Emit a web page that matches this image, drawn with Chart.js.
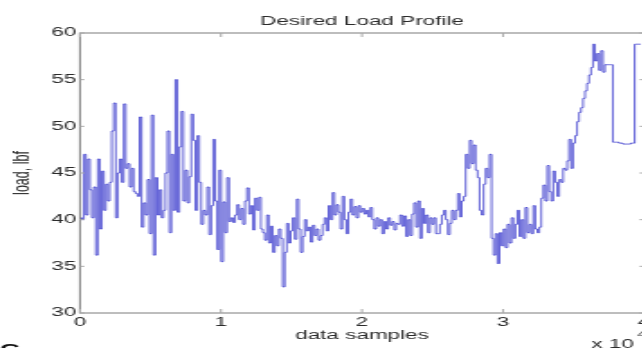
<!DOCTYPE html>
<html>
<head>
<meta charset="utf-8">
<title>Desired Load Profile</title>
<script src="https://cdn.jsdelivr.net/npm/chart.js@4.4.0/dist/chart.umd.min.js"></script>
<style>
  html, body { margin: 0; padding: 0; background: #fff; overflow: hidden; width: 642px; height: 348px; }
  /* la figure d'origine est etiree en largeur, on fait pareil */
  #wrap { width: 370px; height: 348px; transform: scaleX(1.8); transform-origin: 0 0; }
</style>
</head>
<body>
<div id="wrap"><canvas id="myChart" width="370" height="348"></canvas></div>
<script>
// Charge, un point tous les sampleStep echantillons
const sampleStep = 141;
const loadValues = [
  40.2, 40.0, 47.0, 40.5, 46.5, 43.2, 40.2, 43.5, 36.2, 46.5,
  39.0, 45.2, 41.0, 43.8, 42.0, 44.0, 49.5, 52.5, 40.2, 45.0,
  46.5, 44.0, 52.4, 45.5, 46.0, 43.5, 45.5, 43.0, 42.8, 42.5,
  51.0, 39.2, 41.8, 40.5, 44.3, 38.5, 51.2, 36.2, 44.5, 40.5,
  43.2, 40.2, 41.0, 45.0, 49.5, 38.6, 47.0, 41.0, 55.0, 40.8,
  47.8, 51.6, 42.0, 45.3, 41.8, 44.6, 51.3, 48.5, 41.0, 49.0,
  44.0, 39.5, 41.0, 40.5, 43.5, 38.4, 41.5, 48.6, 42.0, 36.8,
  45.3, 35.5, 41.9, 38.6, 44.5, 39.8, 40.2, 39.7, 40.5, 41.6,
  40.0, 41.2, 39.5, 42.0, 43.4, 40.6, 41.5, 38.9, 42.3, 41.0,
  42.4, 39.0, 38.6, 37.8, 40.5, 37.5, 39.3, 36.5, 38.3, 37.2,
  39.0, 38.0, 32.8, 36.5, 39.6, 37.5, 38.8, 40.2, 37.9, 42.2,
  39.0, 36.5, 38.2, 40.0, 38.8, 39.2, 37.6, 39.4, 38.3, 39.0,
  37.8, 38.3, 39.5, 40.2, 38.8, 41.5, 40.0, 42.9, 40.5, 41.6,
  40.8, 39.0, 42.5, 40.0, 38.5, 40.8, 42.2, 40.5, 41.4, 40.2,
  41.5, 40.8, 41.2, 40.6, 41.0, 40.3, 41.3, 40.0, 39.0, 40.2,
  39.3, 40.0, 38.5, 39.8, 39.0, 40.2, 39.4, 39.8, 38.9, 39.6,
  39.5, 40.5, 39.3, 40.4, 38.2, 40.0, 38.3, 40.6, 41.8, 39.2,
  42.0, 38.0, 41.2, 39.6, 40.5, 38.6, 40.2, 39.5, 40.2, 38.5,
  38.5, 39.5, 40.5, 41.0, 40.0, 38.4, 39.6, 41.0, 40.0, 41.0,
  42.8, 40.3, 42.0, 42.5, 47.0, 45.5, 48.5, 46.0, 48.0, 45.3,
  44.5, 41.0, 40.5, 43.8, 45.5, 44.5, 47.0, 38.0, 36.2, 38.5,
  35.3, 38.6, 37.2, 39.0, 37.0, 39.5, 37.5, 40.2, 38.0, 39.5,
  41.0, 38.2, 40.0, 38.0, 41.3, 38.6, 39.5, 38.5, 41.5, 39.0,
  38.6, 39.2, 42.3, 43.7, 42.0, 45.8, 43.0, 42.0, 45.2, 44.0,
  42.5, 44.3, 44.0, 45.5, 45.3, 46.3, 48.6, 45.5, 48.2, 49.0,
  50.5, 51.5, 52.0, 53.0, 53.8, 54.6, 55.5, 56.3, 58.8, 57.0,
  57.8, 56.0, 58.1, 55.8, 56.6, 56.6, 56.6, 56.6, 48.3, 48.3,
  48.3, 48.2, 48.2, 48.1, 48.1, 48.1, 48.1, 48.2, 48.2, 58.8,
  58.8, 58.8, 58.8
];

// graduations
const xTickValues = [0, 10000, 20000, 30000, 40000];
const yTickValues = [30, 35, 40, 45, 50, 55, 60];

const titleText = 'Desired Load Profile';
const xLabel = 'data samples';
const yLabel = 'load, lbf';

// ----------------------------------

var points = loadValues.map(function(v, i) {
  return { x: i * sampleStep, y: v };
});

var fontFamily = '"Liberation Sans", Arial, Helvetica, sans-serif';
var textColor = '#2b2b2b';
var axisColor = '#7c7c7c';

// cadre + petites graduations vers l'interieur (style matlab)
var framePlugin = {
  id: 'frame',
  afterDraw: function(chart) {
    var ctx = chart.ctx;
    var a = chart.chartArea;
    var xs = chart.scales.x;
    var ys = chart.scales.y;

    ctx.save();
    ctx.strokeStyle = axisColor;
    ctx.lineWidth = 1;
    ctx.strokeRect(a.left, a.top, a.right - a.left, a.bottom - a.top);

    ctx.strokeStyle = '#a8a8a8';
    ctx.beginPath();
    xTickValues.forEach(function(v) {
      var px = xs.getPixelForValue(v);
      ctx.moveTo(px, a.bottom); ctx.lineTo(px, a.bottom - 4);
      ctx.moveTo(px, a.top); ctx.lineTo(px, a.top + 4);
    });
    yTickValues.forEach(function(v) {
      var py = ys.getPixelForValue(v);
      ctx.moveTo(a.left, py); ctx.lineTo(a.left + 2.5, py);
      ctx.moveTo(a.right, py); ctx.lineTo(a.right - 2.5, py);
    });
    ctx.stroke();

    // textes
    ctx.fillStyle = textColor;
    ctx.font = '12.5px ' + fontFamily;
    ctx.textAlign = 'center';
    ctx.textBaseline = 'alphabetic';
    var cx = (a.left + a.right) / 2;
    ctx.fillText(titleText, cx, 25);
    ctx.fillText(xLabel, cx, 339);

    ctx.save();
    ctx.translate(13, (a.top + a.bottom) / 2);
    ctx.rotate(-Math.PI / 2);
    ctx.textBaseline = 'middle';
    ctx.fillText(yLabel, 0, 0);
    ctx.restore();

    // exposant de l'axe x
    ctx.textAlign = 'left';
    ctx.fillText('x 10', 328.5, 348);
    ctx.font = '9px ' + fontFamily;
    ctx.fillText('4', 354, 337);

    // bout de lettre coupe en bas a gauche
    ctx.fillStyle = '#111';
    ctx.font = 'bold 15px ' + fontFamily;
    ctx.fillText('C', 0, 354);
    ctx.restore();
  }
};

var ctx = document.getElementById('myChart').getContext('2d');
var myChart = new Chart(ctx, {
  type: 'line',
  data: {
    datasets: [{
      label: 'load',
      data: points,
      stepped: true,
      borderColor: 'rgba(40, 40, 200, 0.72)',
      borderWidth: 1,
      pointRadius: 0,
      fill: false,
      tension: 0
    }]
  },
  options: {
    responsive: false,
    animation: false,
    devicePixelRatio: 1,
    layout: { padding: { top: 33, right: 12.2, bottom: 0, left: 0 } },
    plugins: {
      legend: { display: false },
      tooltip: { enabled: false },
      title: { display: false }
    },
    scales: {
      x: {
        type: 'linear',
        min: 0,
        max: 40000,
        grid: { display: false, drawTicks: false },
        border: { display: false },
        afterBuildTicks: function(scale) {
          scale.ticks = xTickValues.map(function(v) { return { value: v }; });
        },
        afterFit: function(scale) { scale.height = 35; },
        ticks: {
          padding: 2,
          autoSkip: false,
          maxRotation: 0,
          color: textColor,
          font: { family: fontFamily, size: 12.5 },
          callback: function(v) { return v / 10000; }
        }
      },
      y: {
        min: 30,
        max: 60,
        grid: { display: false, drawTicks: false },
        border: { display: false },
        afterBuildTicks: function(scale) {
          scale.ticks = yTickValues.map(function(v) { return { value: v }; });
        },
        afterFit: function(scale) { scale.width = 44.4; },
        ticks: {
          padding: 2,
          color: textColor,
          font: { family: fontFamily, size: 12.5 }
        }
      }
    }
  },
  plugins: [framePlugin]
});
</script>
</body>
</html>
